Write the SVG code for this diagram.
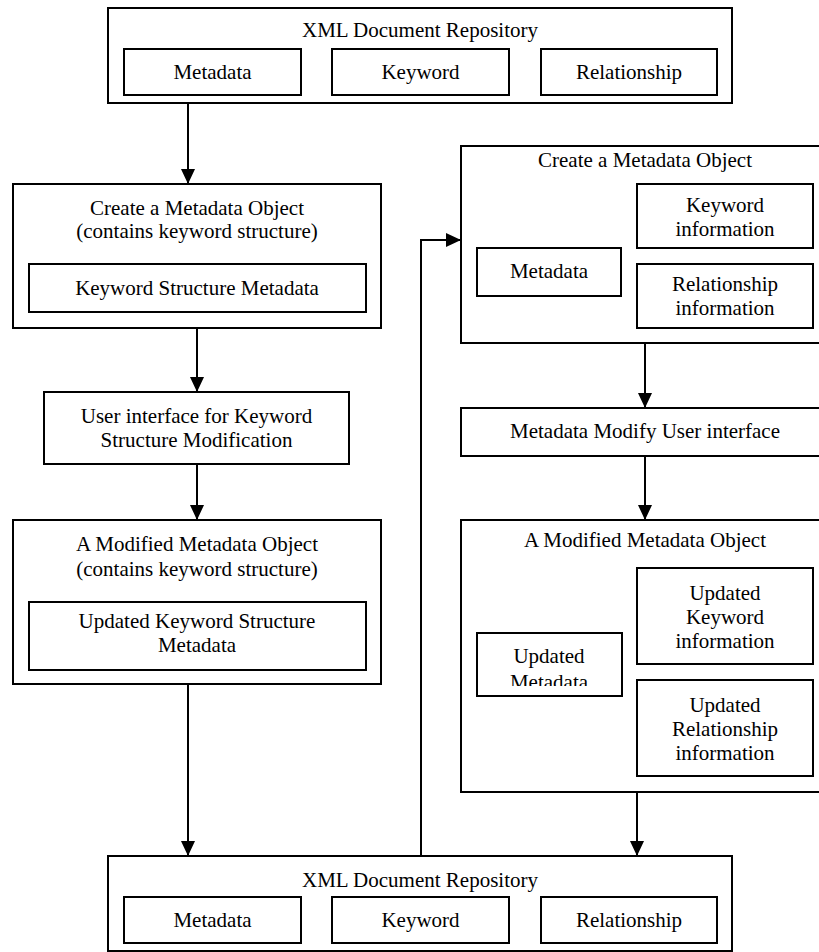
<svg xmlns="http://www.w3.org/2000/svg" width="819" height="952" viewBox="0 0 819 952">
<style>
rect{fill:#fff;stroke:#000;stroke-width:2}
text{font-family:"Liberation Serif","Times New Roman",serif;font-size:21px;fill:#000;text-anchor:middle}
.c{fill:none;stroke:#000;stroke-width:2}
</style>
<defs>
<marker id="ah" markerWidth="15" markerHeight="14" refX="15" refY="7" orient="auto" markerUnits="userSpaceOnUse"><path d="M0,0 L15,7 L0,14 z" fill="#000"/></marker>
<clipPath id="clipUM"><rect x="477" y="634" width="144" height="52"/></clipPath>
</defs>
<g id="repo-top">
<rect x="108" y="8" width="624" height="95"/>
<text x="420" y="37">XML Document Repository</text>
<rect x="124" y="49" width="177" height="46"/><text x="212.5" y="79">Metadata</text>
<rect x="332" y="49" width="177" height="46"/><text x="420.5" y="79">Keyword</text>
<rect x="541" y="49" width="176" height="46"/><text x="629" y="79">Relationship</text>
</g>
<g id="create-left">
<rect x="13" y="184" width="368" height="144"/>
<text x="197" y="215">Create a Metadata Object</text>
<text x="197" y="238">(contains keyword structure)</text>
<rect x="29" y="264" width="337" height="48"/><text x="197" y="295">Keyword Structure Metadata</text>
</g>
<g id="ui-left">
<rect x="44" y="392" width="305" height="72"/>
<text x="196.5" y="423">User interface for Keyword</text>
<text x="196.5" y="447">Structure Modification</text>
</g>
<g id="modified-left">
<rect x="13" y="520" width="368" height="164"/>
<text x="197" y="551">A Modified Metadata Object</text>
<text x="197" y="576">(contains keyword structure)</text>
<rect x="29" y="602" width="337" height="68"/>
<text x="197" y="628">Updated Keyword Structure</text>
<text x="197" y="652">Metadata</text>
</g>
<g id="create-right">
<rect x="461" y="146" width="368" height="197"/>
<text x="645" y="167">Create a Metadata Object</text>
<rect x="637" y="184" width="176" height="64"/><text x="725" y="212">Keyword</text><text x="725" y="236">information</text>
<rect x="477" y="248" width="144" height="48"/><text x="549" y="278">Metadata</text>
<rect x="637" y="264" width="176" height="64"/><text x="725" y="291">Relationship</text><text x="725" y="315">information</text>
</g>
<g id="ui-right">
<rect x="461" y="408" width="368" height="48"/>
<text x="645" y="438">Metadata Modify User interface</text>
</g>
<g id="modified-right">
<rect x="461" y="520" width="368" height="272"/>
<text x="645" y="547">A Modified Metadata Object</text>
<rect x="637" y="568" width="176" height="96"/><text x="725" y="600">Updated</text><text x="725" y="624">Keyword</text><text x="725" y="648">information</text>
<rect x="477" y="633" width="145" height="63"/>
<g clip-path="url(#clipUM)"><text x="549" y="663">Updated</text><text x="549" y="689">Metadata</text></g>
<rect x="637" y="680" width="176" height="96"/><text x="725" y="712">Updated</text><text x="725" y="736">Relationship</text><text x="725" y="760">information</text>
</g>
<g id="repo-bottom">
<rect x="108" y="856" width="624" height="95"/>
<text x="420" y="887">XML Document Repository</text>
<rect x="124" y="897" width="177" height="46"/><text x="212.5" y="927">Metadata</text>
<rect x="332" y="897" width="177" height="46"/><text x="420.5" y="927">Keyword</text>
<rect x="541" y="897" width="176" height="46"/><text x="629" y="927">Relationship</text>
</g>
<g id="connectors">
<line class="c" x1="188" y1="103" x2="188" y2="184" marker-end="url(#ah)"/>
<line class="c" x1="197" y1="328" x2="197" y2="392" marker-end="url(#ah)"/>
<line class="c" x1="197" y1="464" x2="197" y2="520" marker-end="url(#ah)"/>
<line class="c" x1="188" y1="684" x2="188" y2="856" marker-end="url(#ah)"/>
<line class="c" x1="645" y1="343" x2="645" y2="408" marker-end="url(#ah)"/>
<line class="c" x1="645" y1="456" x2="645" y2="520" marker-end="url(#ah)"/>
<line class="c" x1="637" y1="792" x2="637" y2="856" marker-end="url(#ah)"/>
<polyline class="c" points="421,856 421,240 461,240" marker-end="url(#ah)"/>
</g>
</svg>
